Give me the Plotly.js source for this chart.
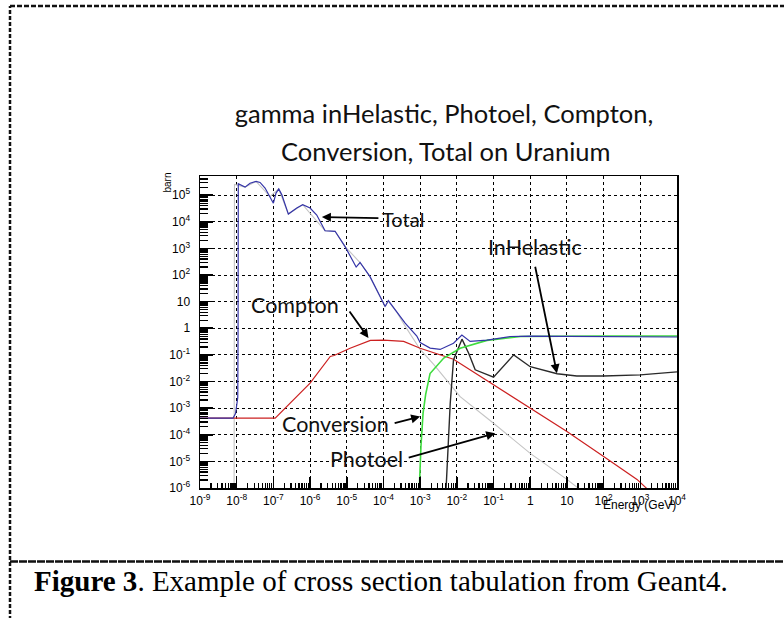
<!DOCTYPE html>
<html>
<head>
<meta charset="utf-8">
<script src="https://cdn.plot.ly/plotly-3.0.1.min.js"></script>
<style>html,body{margin:0;padding:0;background:#fff;}#chart{width:784px;height:618px;}</style>
</head>
<body>
<div id="chart"></div>
<script>
// ---------- data (Energy in GeV, cross section in barn) ----------
var totalE = [1e-9, 7.9e-9, 9.3e-9, 1.07e-8, 1.09e-8, 1.1e-8, 1.105e-8, 1.69e-8, 2.31e-8, 3.37e-8, 4.33e-8, 5.93e-8, 8.1e-8, 1.0e-7, 1.18e-7, 1.4e-7, 1.69e-7, 2.56e-7, 4.34e-7, 6.3e-7, 1e-6, 1.52e-6, 2.56e-6, 4.8e-6, 9.0e-6, 1.37e-5, 1.8e-5, 2.3e-5, 2.84e-5, 4.3e-5, 8.1e-5, 1.11e-4, 1.36e-4, 2.31e-4, 3.9e-4, 8.1e-4, 1e-3, 1.87e-3, 3.5e-3, 8.1e-3, 1.37e-2, 2.3e-2, 6.6e-2, 0.284, 1, 10, 100, 1000, 1e4];
var totalS = [4.2e-4, 4.2e-4, 6.3e-4, 2.5e-3, 1, 1000, 2.7e5, 2.0e5, 2.8e5, 3.3e5, 3.0e5, 1.86e5, 8.9e4, 5.0e4, 1.2e5, 1.7e5, 1.05e5, 1.95e4, 3.3e4, 4.4e4, 3.3e4, 1.8e4, 4.6e3, 4.4e3, 1.17e3, 372, 200, 295, 200, 87, 15.5, 6.6, 11, 4.3, 1.55, 0.51, 0.29, 0.18, 0.16, 0.275, 0.56, 0.32, 0.36, 0.49, 0.51, 0.5, 0.5, 0.49, 0.47];

var comptonE = [1e-9, 1.12e-7, 1e-6, 3.55e-6, 4.5e-6, 1.23e-5, 4.4e-5, 1e-4, 3.55e-4, 1e-3, 8.1e-3, 0.1, 1, 10, 100, 813, 1585];
var comptonS = [4.2e-4, 4.2e-4, 8.7e-3, 0.087, 0.095, 0.178, 0.35, 0.36, 0.32, 0.178, 0.069, 7.4e-3, 1e-3, 1.32e-4, 1.51e-5, 2.1e-6, 8.9e-7];

var conversionE = [9.5e-4, 1.05e-3, 1.2e-3, 1.41e-3, 1.86e-3, 4.4e-3, 1.23e-2, 6.6e-2, 0.54, 4.4, 100, 1e4];
var conversionS = [1e-6, 3.5e-5, 6.5e-4, 3.2e-3, 2.0e-2, 7.6e-2, 0.178, 0.35, 0.49, 0.51, 0.51, 0.51];

var photoelE = [8.5e-9, 8.7e-9, 1.69e-8, 3.37e-8, 8.1e-8, 1.4e-7, 2.56e-7, 6.3e-7, 2.56e-6, 4.8e-6, 9.0e-6, 2.3e-5, 4.3e-5, 8.1e-5, 1.11e-4, 1.36e-4, 2.31e-4, 3.9e-4, 1e-3, 2.3e-3, 1.23e-2, 0.1, 1, 10, 20];
var photoelS = [1e-6, 2.5e5, 2.0e5, 3.3e5, 8.9e4, 1.7e5, 1.95e4, 4.4e4, 4.6e3, 4.4e3, 1.17e3, 295, 87, 15, 6.3, 10.5, 4.0, 1.2, 0.16, 0.045, 2.7e-3, 2.7e-4, 2.0e-5, 2.1e-6, 1e-6];

var inelasticE = [5.1e-3, 6.6e-3, 8.1e-3, 1.38e-2, 2.1e-2, 3.16e-2, 0.1, 0.355, 1, 5.4, 18.6, 100, 1000, 1e4];
var inelasticS = [1e-6, 1.5e-3, 6.5e-2, 0.39, 0.115, 2.75e-2, 1.45e-2, 0.1, 3.6e-2, 1.95e-2, 1.62e-2, 1.62e-2, 1.78e-2, 2.3e-2];

// tick labels
var xTickVals = [1e-9, 1e-8, 1e-7, 1e-6, 1e-5, 1e-4, 1e-3, 1e-2, 1e-1, 1, 10, 100, 1000, 1e4];
var xTickText = ['10<sup>-9</sup>', '10<sup>-8</sup>', '10<sup>-7</sup>', '10<sup>-6</sup>', '10<sup>-5</sup>', '10<sup>-4</sup>', '10<sup>-3</sup>', '10<sup>-2</sup>', '10<sup>-1</sup>', '1', '10', '10<sup>2</sup>', '10<sup>3</sup>', '10<sup>4</sup>'];
var yTickVals = [1e-6, 1e-5, 1e-4, 1e-3, 1e-2, 1e-1, 1, 10, 100, 1000, 1e4, 1e5];
var yTickText = ['10<sup>-6</sup>', '10<sup>-5</sup>', '10<sup>-4</sup>', '10<sup>-3</sup>', '10<sup>-2</sup>', '10<sup>-1</sup>', '1', '10', '10<sup>2</sup>', '10<sup>3</sup>', '10<sup>4</sup>', '10<sup>5</sup>'];

// label arrows: tip (energy, barn)
var labelNames = ['Total', 'InHelastic', 'Compton', 'Conversion', 'Photoel'];
var labelTipE = [2.1e-6, 5.33, 3.9e-5, 1.0e-3, 0.111];
var labelTipS = [1.5e4, 2.04e-2, 0.43, 4.8e-4, 1.15e-4];

// ---------- layout helpers ----------
var W = 784, H = 618, ML = 200, MR = 107, MT = 176, MB = 130;
var PW = W - ML - MR, PH = H - MT - MB;
function xp(px) { return (px - ML) / PW; }
function yp(py) { return (H - MB - py) / PH; }

// minor tick positions (2..9 within each decade)
function minorTicks(lo, hi) {
  var out = [];
  for (var e = lo; e < hi; e++) for (var m = 2; m <= 9; m++) out.push(m * Math.pow(10, e));
  return out;
}

function tr(x, y, color, w) {
  return {x: x, y: y, type: 'scatter', mode: 'lines', line: {color: color, width: w}, hoverinfo: 'skip', showlegend: false};
}
var data = [
  tr(photoelE, photoelS, '#c4c4c4', 1.1),
  tr(comptonE, comptonS, '#cc2020', 1.2),
  tr(inelasticE, inelasticS, '#2a2a2a', 1.4),
  tr(conversionE, conversionS, '#3fdc3f', 1.6),
  tr(totalE, totalS, '#3434a8', 1.2),
  // empty trace that carries the minor-tick overlay axes
  {x: [], y: [], type: 'scatter', mode: 'lines', xaxis: 'x2', yaxis: 'y2', hoverinfo: 'skip', showlegend: false}
];

var lblFont = {family: 'Lato, "Open Sans", sans-serif', size: 21.5, color: '#111'};
var labelPos = [[403, 219], [535, 247], [295, 305], [335, 424], [366, 459]];
var arrowTail = [[58, 1], [-22, -108], [-20, -28], [-27, 7], [-88, 25]];

var annotations = [];
for (var i = 0; i < labelNames.length; i++) {
  annotations.push({xref: 'paper', yref: 'paper', x: xp(labelPos[i][0]), y: yp(labelPos[i][1]),
    xanchor: 'center', yanchor: 'middle', text: labelNames[i], showarrow: false,
    font: {family: lblFont.family, size: (i === 0 ? 20 : lblFont.size), color: lblFont.color}});
  annotations.push({xref: 'x', yref: 'y', x: Math.log10(labelTipE[i]), y: Math.log10(labelTipS[i]),
    text: '', showarrow: true, arrowhead: 2, arrowsize: 1, arrowwidth: 1.8, arrowcolor: '#000',
    axref: 'pixel', ayref: 'pixel', ax: arrowTail[i][0], ay: arrowTail[i][1]});
}
annotations.push({xref: 'paper', yref: 'paper', x: xp(445), y: yp(151), xanchor: 'center', yanchor: 'middle',
  text: 'Conversion, Total on Uranium', showarrow: false, font: {family: 'Lato, sans-serif', size: 25.5, color: '#111'}});
annotations.push({xref: 'paper', yref: 'paper', x: xp(166.5), y: yp(183), xanchor: 'center', yanchor: 'middle',
  text: 'barn', textangle: -90, showarrow: false, font: {family: 'Liberation Sans, Arial, sans-serif', size: 10, color: '#000'}});
annotations.push({xref: 'paper', yref: 'paper', x: xp(678), y: yp(505), xanchor: 'right', yanchor: 'middle',
  text: 'Energy (GeV)', showarrow: false, font: {family: 'Liberation Sans, Arial, sans-serif', size: 12, color: '#000'}});
annotations.push({xref: 'paper', yref: 'paper', x: xp(32), y: yp(581), xanchor: 'left', yanchor: 'middle',
  text: '<b>Figure 3</b>. Example of cross section tabulation from Geant4.', showarrow: false,
  font: {family: '"Liberation Serif", "Times New Roman", serif', size: 29, color: '#000'}});

var shapes = [
  {type: 'line', xref: 'paper', yref: 'paper', x0: xp(10), y0: yp(620), x1: xp(10), y1: yp(6), line: {color: '#111', width: 2.5, dash: '4px,2px'}},
  {type: 'line', xref: 'paper', yref: 'paper', x0: xp(10), y0: yp(6), x1: xp(790), y1: yp(6), line: {color: '#111', width: 2.5, dash: '5px,2px'}},
  {type: 'line', xref: 'paper', yref: 'paper', x0: xp(10), y0: yp(561.5), x1: xp(790), y1: yp(561.5), line: {color: '#111', width: 2.5, dash: '8px,1px'}}
];

function axisBase(vals, text, range, tlen) {
  return {
    type: 'log', range: range, tickmode: 'array', tickvals: vals, ticktext: text,
    ticks: 'inside', ticklen: tlen, tickwidth: 1.6, tickcolor: '#000',
    showline: true, linecolor: '#000', linewidth: 1.5, mirror: true,
    showgrid: true, gridcolor: '#000', gridwidth: 1, griddash: 'dot',
    zeroline: false, fixedrange: true,
    tickfont: {family: 'Liberation Sans, Arial, sans-serif', size: 12, color: '#000'}
  };
}
function minorAxis(range, vals, len, over, anchor, side) {
  return {type: 'log', range: range, overlaying: over, anchor: anchor, side: side,
    tickmode: 'array', tickvals: vals, ticks: 'inside', ticklen: len, tickwidth: 1.3, tickcolor: '#000',
    showticklabels: false, showgrid: false, showline: false, zeroline: false, fixedrange: true};
}
var xa = axisBase(xTickVals, xTickText, [-9, 4], 11);
xa.ticklabelstandoff = 1;
var ya = axisBase(yTickVals, yTickText, [-6, 5.72], 13);
ya.ticklabelstandoff = 6;

var layout = {
  width: W, height: H, autosize: false,
  margin: {l: ML, r: MR, t: MT, b: MB, pad: 0},
  paper_bgcolor: '#fff', plot_bgcolor: '#fff',
  title: {text: 'gamma inHelastic, Photoel, Compton,', xref: 'paper', x: xp(444), xanchor: 'center',
    yref: 'container', y: 1 - 114 / H, yanchor: 'middle', font: {family: 'Lato, sans-serif', size: 25.5, color: '#111'}},
  xaxis: xa, yaxis: ya,
  xaxis2: minorAxis([-9, 4], minorTicks(-9, 4), 5, 'x', 'y2', 'bottom'),
  yaxis2: minorAxis([-6, 5.72], minorTicks(-6, 6), 8, 'y', 'x2', 'left'),
  showlegend: false,
  annotations: annotations,
  shapes: shapes
};

Plotly.newPlot('chart', data, layout, {displayModeBar: false, staticPlot: true});
</script>
</body>
</html>
